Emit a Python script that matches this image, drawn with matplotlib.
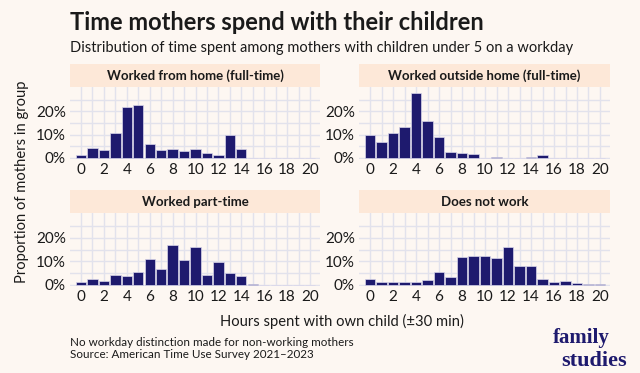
import matplotlib.pyplot as plt
import numpy as np

plt.rcParams["font.family"] = ["Lato", "DejaVu Sans"]

BG = "#FDF7F2"
STRIP = "#FDE8D8"
BAR = "#1E1A6E"
GRID = "#E2E2EC"
TEXT = "#1A1A1A"

hours = list(range(21))

# share of mothers (%) by hours spent with own child, 0..20
from_home = [1.4, 4.3, 3.3, 10.7, 22.0, 22.7, 6.1, 3.4, 4.0, 2.9, 3.6, 2.0, 1.4, 9.7, 4.0,
             0, 0, 0, 0, 0, 0]
outside_home = [9.9, 7.0, 10.9, 13.4, 27.9, 15.9, 9.0, 2.4, 1.9, 1.7, 0, 0.5, 0, 0, 0.5,
                1.4, 0, 0, 0, 0, 0]
part_time = [1.4, 2.4, 1.6, 4.1, 3.6, 5.3, 11.0, 6.9, 16.7, 10.4, 15.9, 4.3, 9.7, 5.1, 3.7,
             0.2, 0, 0, 0, 0, 0]
not_work = [2.6, 1.1, 1.0, 1.1, 1.1, 2.1, 5.3, 3.3, 11.9, 12.4, 12.4, 11.6, 16.0, 7.9, 7.9,
            2.6, 1.1, 1.6, 0.7, 0.2, 0.2]

panel_titles = ["Worked from home (full-time)", "Worked outside home (full-time)",
                "Worked part-time", "Does not work"]
panel_values = [from_home, outside_home, part_time, not_work]

W, H = 640, 373
fig = plt.figure(figsize=(W / 100, H / 100), dpi=100, facecolor=BG)


def px_axes(x0, y0, x1, y1):
    # pixel box (from top-left) -> figure axes
    return fig.add_axes([x0 / W, 1 - y1 / H, (x1 - x0) / W, (y1 - y0) / H])


boxes = [(70, 320, 64, 87, 159), (359, 610, 64, 87, 159),
         (70, 320, 190, 213, 286), (359, 610, 190, 213, 286)]

for (x0, x1, s0, a0, a1), title, vals in zip(boxes, panel_titles, panel_values):
    sax = px_axes(x0, s0, x1, a0)
    sax.set_facecolor(STRIP)
    sax.set_xticks([])
    sax.set_yticks([])
    for sp in sax.spines.values():
        sp.set_visible(False)
    sax.text(0.5, 0.5, title, ha="center", va="center", fontsize=9.5,
             fontweight="bold", color=TEXT, transform=sax.transAxes)

    ax = px_axes(x0, a0, x1, a1)
    ax.set_facecolor(BG)
    ax.bar(hours, vals, width=0.9, color=BAR, edgecolor="#D8D6EA", linewidth=0.5, zorder=3)
    ax.set_xlim(-0.96, 20.87)
    ax.set_ylim(-0.5, 30.5)
    ax.set_xticks(range(0, 21, 2))
    ax.set_xticks(range(1, 21, 2), minor=True)
    ax.set_yticks([0, 10, 20])
    ax.set_yticks([5, 15, 25], minor=True)
    ax.set_yticklabels(["0%", "10%", "20%"])
    ax.grid(True, which="both", color=GRID, linewidth=1.0, zorder=0)
    ax.tick_params(which="both", length=0, labelsize=11, colors=TEXT, pad=3)
    for sp in ax.spines.values():
        sp.set_visible(False)

fig.text(70 / W, 1 - 30 / H, "Time mothers spend with their children", fontsize=17,
         fontweight="bold", color=TEXT, ha="left", va="baseline")
fig.text(70 / W, 1 - 52 / H,
         "Distribution of time spent among mothers with children under 5 on a workday",
         fontsize=10.5, color=TEXT, ha="left", va="baseline")
fig.text(22 / W, 1 - 182 / H, "Proportion of mothers in group", rotation=90,
         fontsize=10.6, color=TEXT, ha="center", va="center")
fig.text(342 / W, 1 - 326 / H, "Hours spent with own child (\u00b130 min)", fontsize=10.6,
         color=TEXT, ha="center", va="baseline")
fig.text(70 / W, 1 - 346 / H, "No workday distinction made for non-working mothers",
         fontsize=8.4, color=TEXT, ha="left", va="baseline")
fig.text(70 / W, 1 - 358 / H, "Source: American Time Use Survey 2021\u20132023",
         fontsize=8.4, color=TEXT, ha="left", va="baseline")

fig.text(610 / W, 1 - 343 / H, "family", fontsize=15, fontweight="bold",
         family="Liberation Serif", color=BAR, ha="right", va="baseline")
fig.text(627 / W, 1 - 366 / H, "studies", fontsize=16, fontweight="bold",
         family="Liberation Serif", color=BAR, ha="right", va="baseline")

fig.savefig("out.png", dpi=100, facecolor=BG)
